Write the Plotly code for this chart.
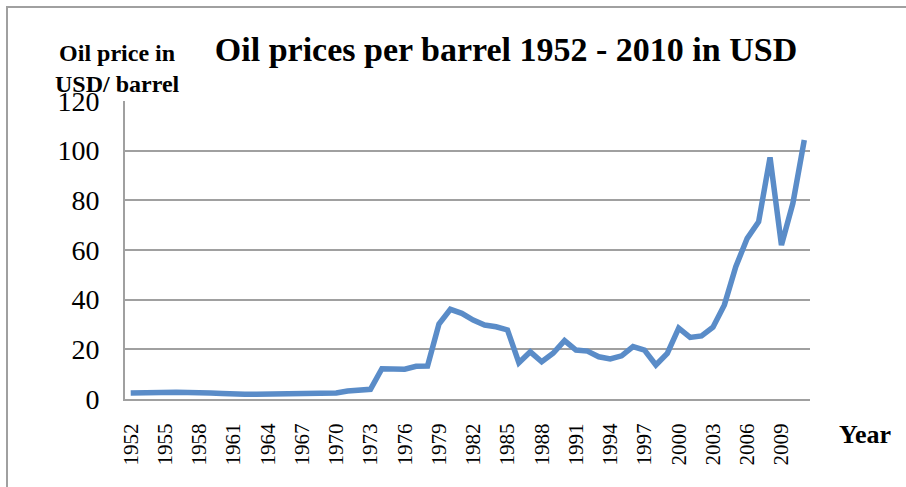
import plotly.graph_objects as go

# yearly oil price, USD per barrel
years = list(range(1952, 2012))
prices = [
    2.4, 2.6, 2.6, 2.7, 2.7, 2.6, 2.7, 2.4, 2.2, 1.9,
    1.9, 1.9, 1.9, 1.9, 1.9, 1.9, 1.9, 1.9, 2.4, 3.2,
    3.6, 3.9, 12.2, 12.0, 12.0, 13.2, 13.3, 30.2, 36.1, 34.5,
    31.8, 29.8, 29.1, 27.8, 14.6, 19.0, 15.0, 18.4, 23.5, 19.7,
    19.3, 17.0, 16.1, 17.4, 21.1, 19.7, 13.7, 18.4, 28.5, 24.8,
    25.4, 28.9, 37.9, 53.3, 64.7, 71.4, 97.3, 62.0, 78.8, 104.3,
]
tick_years = list(range(1952, 2012, 3))
y_ticks = [0, 20, 40, 60, 80, 100, 120]

FONT = "Liberation Serif"
GRID = "#a0a0a0"

fig = go.Figure()
fig.add_trace(go.Scatter(x=years, y=prices, mode="lines",
    line=dict(color="#5a8cc8", width=5.5), showlegend=False))

fig.update_layout(
    width=906, height=487,
    paper_bgcolor="white", plot_bgcolor="white",
    margin=dict(l=125, r=96, t=101, b=88),
    font=dict(family=FONT, color="black"),
    title=dict(text="<b>Oil prices per barrel 1952 - 2010 in USD</b>",
        font=dict(family=FONT, size=34, color="black"),
        x=506 / 906, xanchor="center", y=1 - 49 / 487, yanchor="middle"),
)

fig.update_xaxes(
    range=[1951.5, 2011.5], tickmode="array", tickvals=tick_years,
    ticktext=[str(y) for y in tick_years], tickangle=-90,
    tickfont=dict(family=FONT, size=21), ticklabelstandoff=14,
    showgrid=False, showline=True, linecolor=GRID, linewidth=2,
    zeroline=False)
fig.update_yaxes(
    range=[0, 120], tickmode="array", tickvals=y_ticks,
    tickfont=dict(family=FONT, size=28), ticklabelstandoff=18,
    showgrid=True, gridcolor=GRID, gridwidth=2,
    showline=True, linecolor=GRID, linewidth=2, zeroline=False)

# axis captions
fig.add_annotation(text="<b>Oil price in<br>USD/ barrel</b>", xref="paper",
    yref="paper", x=(117 - 125) / 685, y=(399 - 69) / 298, showarrow=False,
    xanchor="center", yanchor="middle", align="center",
    font=dict(family=FONT, size=24))
fig.add_annotation(text="<b>Year</b>", xref="paper", yref="paper",
    x=(865 - 125) / 685, y=(399 - 434) / 298, showarrow=False,
    xanchor="center", yanchor="middle", font=dict(family=FONT, size=26))

# outer chart frame (only top and left edges visible)
fig.add_shape(type="rect", xref="paper", yref="paper",
    x0=(7 - 125) / 685, y0=-0.5, x1=1.3, y1=(399 - 7) / 298,
    line=dict(color=GRID, width=2), layer="below")

fig.write_html("out.html", config={"displayModeBar": False},
    post_script="document.body.style.margin='0';")
